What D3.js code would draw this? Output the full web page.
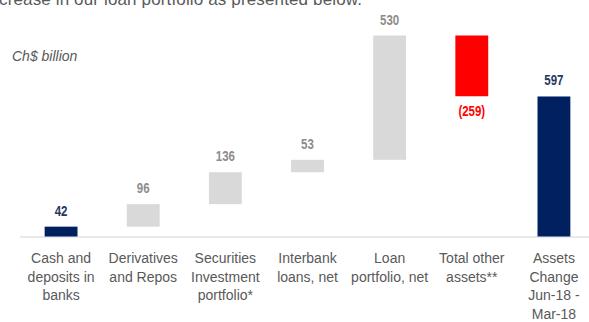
<!DOCTYPE html>
<html>
<head>
<meta charset="utf-8">
<script src="https://cdn.jsdelivr.net/npm/d3@7"></script>
<style>
  body { margin: 0; background: #fff; }
  svg { display: block; }
  .narrow { font-family: "Liberation Sans Narrow", "Arial Narrow", "Liberation Sans", sans-serif; }
</style>
</head>
<body>
<script>
// Chart data
var categories = ["Cash and|deposits in|banks", "Derivatives|and Repos", "Securities|Investment|portfolio*",
  "Interbank|loans, net", "Loan|portfolio, net", "Total other|assets**", "Assets|Change|Jun-18 -|Mar-18"];
var values = [42, 96, 136, 53, 530, -259, 597];
var valueLabels = ["42", "96", "136", "53", "530", "(259)", "597"];
var kinds = ["total", "step", "step", "step", "step", "neg", "total"];

var svgWidth = 589;
var svgHeight = 322;

var svg = d3.select("body")
  .append("svg")
  .attr("width", svgWidth)
  .attr("height", svgHeight);

// clipped sentence at the top (comes from the slide text)
svg.append("text")
  .attr("x", -1)
  .attr("y", 5)
  .attr("textLength", 363)
  .style("font-family", "'Liberation Sans', Arial, sans-serif")
  .style("font-size", "17px")
  .style("fill", "#595959")
  .text("crease in our loan portfolio as presented below.");

svg.append("text")
  .attr("x", 12)
  .attr("y", 61)
  .style("font-family", "'Liberation Sans', Arial, sans-serif")
  .style("font-size", "14px")
  .style("font-style", "italic")
  .style("fill", "#595959")
  .text("Ch$ billion");

// waterfall start/end for each bar
var running = 0;
var bars = values.map(function (v, i) {
  var b;
  if (kinds[i] === "total" && i > 0) {
    b = { y0: 0, y1: v };
  } else {
    b = { y0: running, y1: running + v };
    running += v;
  }
  b.cat = categories[i];
  b.label = valueLabels[i];
  b.kind = kinds[i];
  return b;
});

var xScale = d3.scaleBand()
  .domain(categories)
  .range([20, 595])
  .paddingInner(0.6)
  .paddingOuter(0.3);

var yScale = d3.scaleLinear()
  .domain([0, 857])
  .range([236.5, 35.5]);

var fillFor = { total: "#002060", step: "#d9d9d9", neg: "#ff0000" };
var labelFor = { total: "#1f3864", step: "#8c8c8c", neg: "#ff0000" };

// baseline
svg.append("line")
  .attr("x1", 20)
  .attr("x2", svgWidth)
  .attr("y1", yScale(0) + 0.5)
  .attr("y2", yScale(0) + 0.5)
  .style("stroke", "#e3e3e3")
  .style("stroke-width", 1.5);

svg.selectAll("rect.bar")
  .data(bars)
  .enter()
  .append("rect")
  .attr("class", "bar")
  .attr("x", d => xScale(d.cat))
  .attr("width", xScale.bandwidth())
  .attr("y", d => yScale(Math.max(d.y0, d.y1)))
  .attr("height", d => Math.abs(yScale(d.y0) - yScale(d.y1)))
  .style("fill", d => fillFor[d.kind]);

// value labels (squeezed a bit to look like a narrow font)
svg.selectAll("text.val")
  .data(bars)
  .enter()
  .append("text")
  .attr("class", "val narrow")
  .attr("transform", function (d) {
    var cx = xScale(d.cat) + xScale.bandwidth() / 2;
    var cy = d.kind === "neg" ? yScale(Math.min(d.y0, d.y1)) + 20 : yScale(Math.max(d.y0, d.y1)) - 11;
    return `translate(${cx}, ${cy}) scale(0.82, 1)`;
  })
  .attr("text-anchor", "middle")
  .style("font-size", "14px")
  .style("font-weight", "bold")
  .style("fill", d => labelFor[d.kind])
  .text(d => d.label);

// category labels
var catText = svg.selectAll("text.cat")
  .data(categories)
  .enter()
  .append("text")
  .attr("class", "cat narrow")
  .attr("text-anchor", "middle")
  .attr("transform", d => `translate(${xScale(d) + xScale.bandwidth() / 2}, 263)`)
  .style("font-size", "14px")
  .style("fill", "#595959");

catText.selectAll("tspan")
  .data(d => d.split("|"))
  .enter()
  .append("tspan")
  .attr("x", 0)
  .attr("y", (d, i) => i * 18.5)
  .text(d => d);
</script>
</body>
</html>
